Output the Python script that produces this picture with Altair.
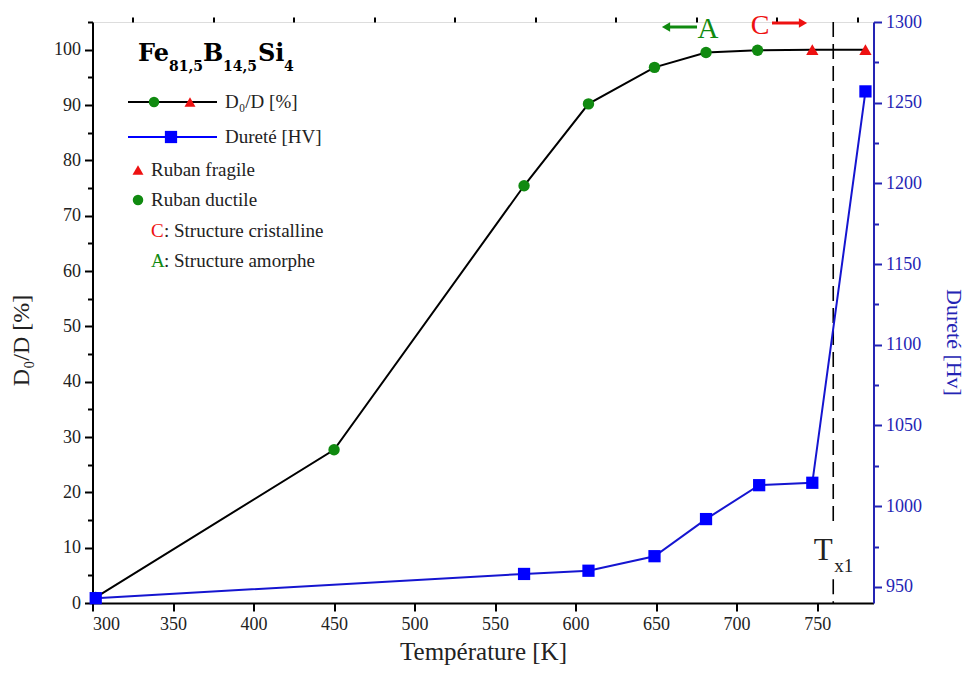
import altair as alt
import pandas as pd

# ---------------- data ----------------
temp_d = [302, 450, 568, 608, 649, 681, 713, 747, 780]
d_ratio = [1.0, 27.7, 75.4, 90.2, 96.8, 99.5, 99.9, 100.0, 100.0]
ruban = ["ductile", "ductile", "ductile", "ductile", "ductile", "ductile", "ductile", "fragile", "fragile"]

temp_h = [302, 568, 608, 649, 681, 714, 747, 780]
hardness = [943, 958, 960, 969, 992, 1013, 1014.5, 1257]

tx1 = 760

x_major = [300, 350, 400, 450, 500, 550, 600, 650, 700, 750]
x_minor = [325, 375, 425, 475, 525, 575, 625, 675, 725, 775]
yl_major = [0, 10, 20, 30, 40, 50, 60, 70, 80, 90, 100]
yl_minor = [5, 15, 25, 35, 45, 55, 65, 75, 85, 95, 105]
yr_major = [950, 1000, 1050, 1100, 1150, 1200, 1250, 1300]
yr_minor = [975, 1025, 1075, 1125, 1175, 1225, 1275]

W, H = 781, 581
OX, OY = 92.5, 22  # page position of plot origin (for annotation placement)

GREEN = "#108a10"
RED = "#ee1111"
BLUE = "#0000ff"
BLUE_AX = "#2424b4"
FONT = "Liberation Serif"
TFONT = "DejaVu Serif"

df_d = pd.DataFrame({"T": temp_d, "D": d_ratio, "ruban": ruban})
df_h = pd.DataFrame({"T": temp_h, "H": hardness})
df_tx = pd.DataFrame({"T": [tx1, tx1], "D": [105, 4.3], "D2": [13.8, 0]})
one = pd.DataFrame({"a": [0]})

xs = alt.Scale(domain=[300, 785], nice=False, zero=False)
yls = alt.Scale(domain=[0, 105], nice=False, zero=False)
yrs = alt.Scale(domain=[940, 1300], nice=False, zero=False)

x_axis = alt.Axis(values=x_major, format="d", title="Température [K]",
                  labelFontSize=18, titleFontSize=25, labelFont=FONT, titleFont=FONT,
                  titleFontWeight="normal", labelColor="#222", titleColor="#222",
                  domainColor="black", domainWidth=2, tickColor="black", tickWidth=2,
                  tickSize=8, labelPadding=4, titlePadding=6, grid=False)
yl_axis = alt.Axis(values=yl_major, format="d", title="D₀/D [%]", orient="left",
                   labelFontSize=18, titleFontSize=24, labelFont=FONT, titleFont=FONT,
                   titleFontWeight="normal", labelColor="#222", titleColor="#222",
                   domainColor="black", domainWidth=2, tickColor="black", tickWidth=2,
                   tickSize=8, labelPadding=4, titlePadding=20, grid=False, titleY=318)
x_minor_axis = alt.Axis(values=x_minor, labels=False, title=None, domain=False,
                        tickColor="black", tickWidth=2, tickSize=5, grid=False)
yl_minor_axis = alt.Axis(values=yl_minor, labels=False, title=None, domain=False, orient="left",
                         tickColor="black", tickWidth=2, tickSize=5, grid=False)
yr_axis = alt.Axis(values=yr_major, format="d", title="Dureté [Hv]", orient="right",
                   labelFontSize=18, titleFontSize=22, labelFont=FONT, titleFont=FONT,
                   titleFontWeight="normal", labelColor=BLUE_AX, titleColor=BLUE_AX,
                   domainColor=BLUE_AX, domainWidth=2, tickColor=BLUE_AX, tickWidth=2,
                   tickSize=8, labelPadding=4, titlePadding=20, grid=False, titleAngle=90,
                   titleY=320)
yr_minor_axis = alt.Axis(values=yr_minor, labels=False, title=None, domain=False, orient="right",
                         tickColor=BLUE_AX, tickWidth=2, tickSize=5, grid=False)

X = alt.X("T:Q", scale=xs, axis=x_axis)
YL = alt.Y("D:Q", scale=yls, axis=yl_axis)

base_d = alt.Chart(df_d)
black_line = base_d.mark_line(color="black", strokeWidth=2).encode(x=X, y=YL)
circles = base_d.transform_filter(alt.datum.ruban == "ductile").mark_point(
    shape="circle", filled=True, size=130, color=GREEN, opacity=1).encode(x=X, y=YL)
triangles = base_d.transform_filter(alt.datum.ruban == "fragile").mark_point(
    shape="triangle-up", filled=True, size=150, color=RED, opacity=1).encode(x=X, y=YL)

tx_rule = alt.Chart(df_tx).mark_rule(color="black", strokeWidth=1.6, strokeDash=[15, 7]).encode(
    x=X, y=YL, y2="D2:Q")
tx_T = alt.Chart(pd.DataFrame({"T": [tx1], "D": [7.8]})).mark_text(
    text="T", font=FONT, fontSize=31, color="#222", align="center", baseline="alphabetic", dx=-10
).encode(x=X, y=YL)
tx_sub = alt.Chart(pd.DataFrame({"T": [tx1], "D": [5.6]})).mark_text(
    text="x1", font=FONT, fontSize=19, color="#222", align="left", baseline="alphabetic", dx=1
).encode(x=X, y=YL)


def txt(s, xp, yp, size=19, color="#222", weight="normal", align="left", baseline="middle", font=FONT):
    return alt.Chart(one).mark_text(text=s, font=font, fontSize=size, color=color,
                                    fontWeight=weight, align=align, baseline=baseline).encode(
        x=alt.value(xp - OX), y=alt.value(yp - OY))


def pt(xp, yp, shape, color, size):
    return alt.Chart(one).mark_point(shape=shape, filled=True, size=size, color=color,
                                     opacity=1).encode(x=alt.value(xp - OX), y=alt.value(yp - OY))


def seg(x1, x2, yp, color, width=2):
    return alt.Chart(one).mark_rule(color=color, strokeWidth=width).encode(
        x=alt.value(x1 - OX), x2=alt.value(x2 - OX), y=alt.value(yp - OY))


annotations = [
    # title Fe81,5B14,5Si4
    txt("Fe", 138, 61, size=24, color="black", weight="bold", baseline="alphabetic", font=TFONT),
    txt("81,5", 169, 71, size=14, color="black", weight="bold", baseline="alphabetic", font=TFONT),
    txt("B", 203, 61, size=24, color="black", weight="bold", baseline="alphabetic", font=TFONT),
    txt("14,5", 223, 71, size=14, color="black", weight="bold", baseline="alphabetic", font=TFONT),
    txt("Si", 258, 61, size=24, color="black", weight="bold", baseline="alphabetic", font=TFONT),
    txt("4", 284, 71, size=14, color="black", weight="bold", baseline="alphabetic", font=TFONT),
    # legend row 1
    seg(128, 217, 102, "black"),
    pt(154, 102, "circle", GREEN, 110),
    pt(190, 102, "triangle-up", RED, 120),
    txt("D₀/D [%]", 225, 102),
    # legend row 2
    seg(128, 217, 137, BLUE),
    pt(171, 137, "square", BLUE, 150),
    txt("Dureté [HV]", 225, 137),
    # legend rows 3-6
    pt(138, 170, "triangle-up", RED, 120),
    txt("Ruban fragile", 151, 170),
    pt(138, 200, "circle", GREEN, 110),
    txt("Ruban ductile", 151, 200),
    txt("C", 151, 231, color=RED),
    txt(": Structure cristalline", 164, 231),
    txt("A", 151, 261, color=GREEN),
    txt(": Structure amorphe", 164, 261),
    # top annotations
    seg(668, 697, 27, GREEN, 3),
    pt(666, 27, "triangle-left", GREEN, 90),
    txt("A", 708, 38, size=29, color=GREEN, align="center", baseline="alphabetic"),
    seg(772, 801, 23, RED, 3),
    pt(803, 23, "triangle-right", RED, 90),
    txt("C", 760, 34, size=28, color=RED, align="center", baseline="alphabetic"),
]

left_layer = alt.layer(black_line, tx_rule, circles, triangles, tx_T, tx_sub, *annotations)

minor_left = alt.Chart(pd.DataFrame({"T": [300], "D": [0]})).mark_point(opacity=0).encode(
    x=alt.X("T:Q", scale=xs, axis=x_minor_axis),
    y=alt.Y("D:Q", scale=yls, axis=yl_minor_axis))

XR = alt.X("T:Q", scale=xs, axis=None)
YR = alt.Y("H:Q", scale=yrs, axis=yr_axis)
base_h = alt.Chart(df_h)
blue_line = base_h.mark_line(color="#1515d0", strokeWidth=2).encode(x=XR, y=YR)
squares = base_h.mark_point(shape="square", filled=True, size=150, color=BLUE, opacity=1).encode(x=XR, y=YR)
right_layer = alt.layer(blue_line, squares)

minor_right = alt.Chart(pd.DataFrame({"T": [300], "H": [950]})).mark_point(opacity=0).encode(
    x=alt.X("T:Q", scale=xs, axis=None),
    y=alt.Y("H:Q", scale=yrs, axis=yr_minor_axis))

chart = alt.layer(left_layer, minor_left, right_layer, minor_right).resolve_scale(
    y="independent").resolve_axis(x="independent", y="independent").properties(
    width=W, height=H,
    autosize=alt.AutoSizeParams(type="none"),
    padding={"left": OX - 8, "top": OY - 8, "right": 95, "bottom": 72},
).configure_view(stroke=None).configure(background="white")

chart.save("out.html", embed_options={"renderer": "svg", "actions": False})
